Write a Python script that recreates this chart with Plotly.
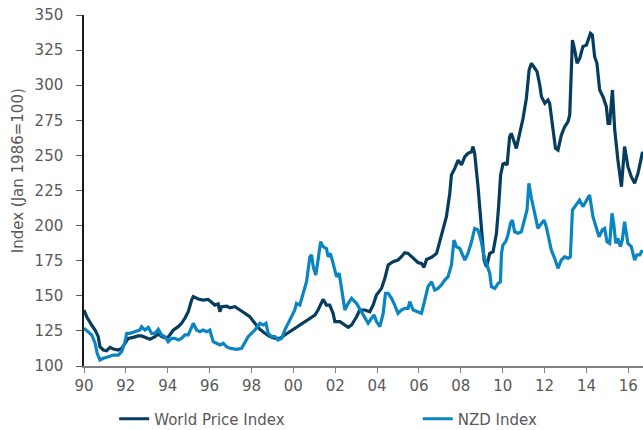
import plotly.graph_objects as go

# Decimal years (axis positions) and index values
world_years = [1990.00, 1990.13, 1990.37, 1990.53, 1990.68, 1990.76, 1990.92, 1991.08, 1991.24, 1991.40,
               1991.64, 1991.80, 1991.96, 1992.11, 1992.35, 1992.59, 1992.75, 1992.91, 1993.15, 1993.39,
               1993.55, 1993.71, 1993.95, 1994.10, 1994.26, 1994.50, 1994.66, 1994.82, 1994.98, 1995.14,
               1995.22, 1995.46, 1995.69, 1995.93, 1996.10, 1996.25, 1996.41, 1996.49, 1996.57, 1996.81,
               1996.97, 1997.21, 1997.45, 1997.68, 1997.92, 1998.16, 1998.40, 1998.64, 1998.88, 1999.12,
               1999.36, 1999.59, 1999.83, 2000.07, 2000.31, 2000.55, 2000.79, 2001.03, 2001.18, 2001.35,
               2001.42, 2001.58, 2001.74, 2001.90, 2001.98, 2002.22, 2002.46, 2002.62, 2002.78, 2003.02,
               2003.17, 2003.41, 2003.65, 2003.81, 2003.97, 2004.21, 2004.37, 2004.53, 2004.76, 2005.00,
               2005.16, 2005.32, 2005.48, 2005.72, 2005.96, 2006.12, 2006.24, 2006.36, 2006.60, 2006.84,
               2006.99, 2007.15, 2007.31, 2007.47, 2007.55, 2007.71, 2007.87, 2008.03, 2008.19, 2008.34,
               2008.51, 2008.58, 2008.66, 2008.82, 2008.98, 2009.11, 2009.22, 2009.38, 2009.54, 2009.70,
               2009.81, 2009.90, 2010.01, 2010.10, 2010.21, 2010.33, 2010.41, 2010.57, 2010.65, 2010.81,
               2010.97, 2011.13, 2011.26, 2011.37, 2011.53, 2011.64, 2011.77, 2011.85, 2012.01, 2012.16,
               2012.24, 2012.40, 2012.52, 2012.64, 2012.80, 2012.96, 2013.12, 2013.20, 2013.33, 2013.44,
               2013.55, 2013.68, 2013.83, 2014.00, 2014.19, 2014.28, 2014.39, 2014.50, 2014.63, 2014.79,
               2014.95, 2015.03, 2015.11, 2015.24, 2015.35, 2015.50, 2015.67, 2015.82, 2015.98, 2016.14,
               2016.30, 2016.46, 2016.62, 2016.68]
world_values = [139.9, 135.0, 129.0, 125.6, 120.9, 113.8, 111.4, 110.9, 113.3, 112.1,
                111.4, 112.6, 116.2, 119.7, 120.4, 121.4, 121.4, 120.4, 119.0, 120.9,
                122.8, 120.9, 119.7, 122.1, 125.6, 128.0, 130.4, 134.0, 138.7, 147.0,
                149.4, 147.7, 147.0, 147.5, 145.1, 143.4, 144.2, 138.7, 142.2, 142.7,
                141.5, 142.2, 139.9, 137.5, 135.1, 130.4, 126.1, 123.3, 120.9, 119.7,
                119.7, 122.1, 124.4, 126.9, 129.2, 131.6, 134.0, 136.3, 139.9, 145.1,
                147.5, 143.4, 143.4, 137.5, 131.6, 131.6, 129.2, 127.5, 129.2, 135.1,
                139.9, 139.9, 138.7, 143.4, 150.6, 155.3, 162.5, 171.9, 174.3, 175.5,
                177.8, 180.7, 180.2, 176.7, 173.6, 173.1, 170.3, 175.9, 177.4, 180.2,
                188.5, 195.6, 206.3, 222.9, 236.0, 240.7, 246.7, 243.2, 249.1, 251.5,
                252.6, 256.3, 251.5, 227.7, 199.2, 175.5, 170.7, 180.2, 181.4, 194.5,
                215.0, 236.0, 243.9, 244.4, 243.2, 263.3, 265.7, 258.6, 255.0, 265.7,
                276.4, 290.7, 310.8, 315.6, 312.1, 309.6, 300.1, 291.8, 287.1, 289.5,
                287.1, 268.1, 255.0, 253.8, 264.5, 270.4, 274.0, 278.8, 332.2, 325.1,
                315.6, 319.2, 327.5, 328.6, 337.0, 335.8, 320.3, 315.6, 296.6, 291.8,
                284.7, 272.8, 272.8, 296.6, 268.1, 246.7, 227.7, 256.3, 242.0, 234.8,
                230.1, 237.2, 250.3, 252.6]

nzd_years = [1990.00, 1990.21, 1990.37, 1990.53, 1990.63, 1990.76, 1990.92, 1991.16, 1991.40, 1991.64,
             1991.80, 1991.96, 1992.04, 1992.20, 1992.43, 1992.67, 1992.75, 1992.91, 1993.07, 1993.23,
             1993.39, 1993.55, 1993.71, 1993.87, 1994.02, 1994.19, 1994.34, 1994.50, 1994.66, 1994.82,
             1994.98, 1995.14, 1995.22, 1995.38, 1995.54, 1995.69, 1995.86, 1996.01, 1996.17, 1996.33,
             1996.49, 1996.65, 1996.81, 1996.97, 1997.29, 1997.53, 1997.69, 1997.84, 1998.00, 1998.16,
             1998.40, 1998.56, 1998.69, 1998.80, 1998.96, 1999.12, 1999.27, 1999.44, 1999.59, 1999.75,
             1999.91, 2000.07, 2000.15, 2000.31, 2000.47, 2000.63, 2000.79, 2000.87, 2000.95, 2001.07,
             2001.18, 2001.30, 2001.42, 2001.58, 2001.66, 2001.77, 2001.90, 2002.06, 2002.19, 2002.30,
             2002.46, 2002.62, 2002.78, 2003.02, 2003.26, 2003.41, 2003.57, 2003.73, 2003.86, 2003.97,
             2004.13, 2004.29, 2004.40, 2004.53, 2004.69, 2004.84, 2005.00, 2005.16, 2005.32, 2005.48,
             2005.56, 2005.72, 2005.96, 2006.12, 2006.28, 2006.43, 2006.60, 2006.75, 2006.91, 2007.07,
             2007.23, 2007.39, 2007.55, 2007.67, 2007.79, 2007.95, 2008.19, 2008.34, 2008.51, 2008.66,
             2008.82, 2008.98, 2009.11, 2009.22, 2009.38, 2009.46, 2009.62, 2009.78, 2009.89, 2009.94,
             2010.01, 2010.14, 2010.25, 2010.37, 2010.46, 2010.57, 2010.73, 2010.89, 2011.05, 2011.16,
             2011.25, 2011.37, 2011.53, 2011.68, 2011.85, 2011.97, 2012.08, 2012.21, 2012.32, 2012.48,
             2012.64, 2012.80, 2012.96, 2013.12, 2013.23, 2013.33, 2013.48, 2013.67, 2013.83, 2013.99,
             2014.15, 2014.31, 2014.44, 2014.60, 2014.76, 2014.87, 2014.98, 2015.11, 2015.22, 2015.30,
             2015.40, 2015.50, 2015.62, 2015.71, 2015.82, 2015.98, 2016.14, 2016.30, 2016.41, 2016.54,
             2016.67]
nzd_values = [126.9, 124.4, 122.1, 116.2, 109.0, 104.3, 105.5, 106.6, 107.8, 107.8,
              110.2, 117.3, 123.3, 123.3, 124.4, 125.6, 128.0, 125.6, 127.5, 123.3,
              123.3, 126.1, 122.1, 120.9, 117.3, 119.7, 119.7, 118.5, 119.7, 122.1,
              122.1, 126.9, 130.4, 125.6, 124.4, 125.6, 124.4, 125.6, 117.3, 116.2,
              115.0, 116.2, 113.8, 112.6, 111.8, 112.6, 117.3, 120.9, 123.3, 125.6,
              130.4, 129.2, 130.4, 123.3, 120.9, 120.9, 118.5, 119.7, 125.6, 130.4,
              135.1, 139.9, 144.6, 143.4, 151.8, 160.0, 177.8, 179.1, 170.7, 164.8,
              175.5, 188.5, 185.0, 183.7, 177.8, 180.2, 173.1, 163.6, 166.1, 156.5,
              139.9, 144.6, 148.2, 144.6, 138.7, 135.1, 130.4, 134.0, 136.3, 131.6,
              128.0, 137.5, 151.8, 151.8, 148.2, 143.4, 137.5, 139.9, 141.1, 141.1,
              145.8, 139.9, 138.7, 137.5, 147.0, 156.5, 160.0, 154.1, 155.3, 157.7,
              161.2, 163.6, 171.9, 189.7, 185.0, 183.7, 175.5, 180.2, 188.5, 198.0,
              196.9, 188.5, 177.8, 173.1, 166.1, 156.5, 155.3, 158.9, 160.0, 180.2,
              186.2, 188.5, 193.3, 201.6, 203.9, 195.6, 194.5, 195.6, 206.3, 211.1,
              230.1, 219.4, 208.7, 198.0, 201.6, 203.9, 199.2, 188.5, 182.6, 176.7,
              169.6, 175.5, 177.8, 176.7, 177.8, 211.1, 214.6, 218.2, 213.5, 218.2,
              221.8, 206.3, 200.4, 192.1, 196.9, 198.0, 188.5, 187.3, 208.7, 201.6,
              187.3, 190.9, 185.0, 189.7, 202.8, 187.3, 185.0, 175.5, 179.1, 179.1,
              182.6]

x_tick_years = list(range(1990, 2017, 2))
x_tick_labels = ["90", "92", "94", "96", "98", "00", "02", "04", "06", "08", "10", "12", "14", "16"]
y_ticks = [100, 125, 150, 175, 200, 225, 250, 275, 300, 325, 350]

series_names = ["World Price Index", "NZD Index"]
dark_blue = "#063D5F"
light_blue = "#0A85C2"
text_grey = "#595959"
font_family = "DejaVu Sans"

fig = go.Figure()
fig.add_trace(go.Scatter(x=world_years, y=world_values, mode="lines", name=series_names[0],
                         line=dict(color=dark_blue, width=3.2), legend="legend"))
fig.add_trace(go.Scatter(x=nzd_years, y=nzd_values, mode="lines", name=series_names[1],
                         line=dict(color=light_blue, width=3.2), legend="legend2"))

legend_common = dict(orientation="h", yanchor="middle", xanchor="left", y=-0.151,
                     itemwidth=30, font=dict(size=15, color=text_grey),
                     bgcolor="rgba(0,0,0,0)")

fig.update_layout(
    width=643, height=430,
    margin=dict(l=84, r=0, t=15, b=64, autoexpand=False),
    paper_bgcolor="white", plot_bgcolor="white",
    font=dict(family=font_family, size=15, color=text_grey),
    showlegend=True,
    legend=dict(x=0.054, **legend_common),
    legend2=dict(x=0.597, **legend_common),
    annotations=[dict(text="Index (Jan 1986=100)", textangle=-90, xref="paper", yref="paper",
                      x=-0.118, y=0.555, xanchor="center", yanchor="middle", showarrow=False,
                      font=dict(size=15, color=text_grey))],
)
fig.update_xaxes(range=[1990, 2016.7], tickvals=x_tick_years, ticktext=x_tick_labels,
                 automargin=False, ticklabeloverflow="allow",
                 showgrid=False, zeroline=False, showline=True, linecolor="#808080", linewidth=1.5,
                 ticks="outside", ticklen=5, tickcolor="#808080", tickwidth=1.2)
fig.update_yaxes(range=[100, 350], tickvals=y_ticks, showgrid=False, zeroline=False,
                 automargin=False, ticklabeloverflow="allow",
                 showline=True, linecolor="#1a1a1a", linewidth=1.5,
                 ticks="outside", ticklen=6, tickcolor="#595959", tickwidth=1.2,
                 ticklabelstandoff=10)

# Remove the page's default body margin so the 643x430 figure fills the window exactly.
fig.write_html("out.html",
               config={"displayModeBar": False},
               post_script="document.body.style.margin='0';document.body.style.overflow='hidden';")
